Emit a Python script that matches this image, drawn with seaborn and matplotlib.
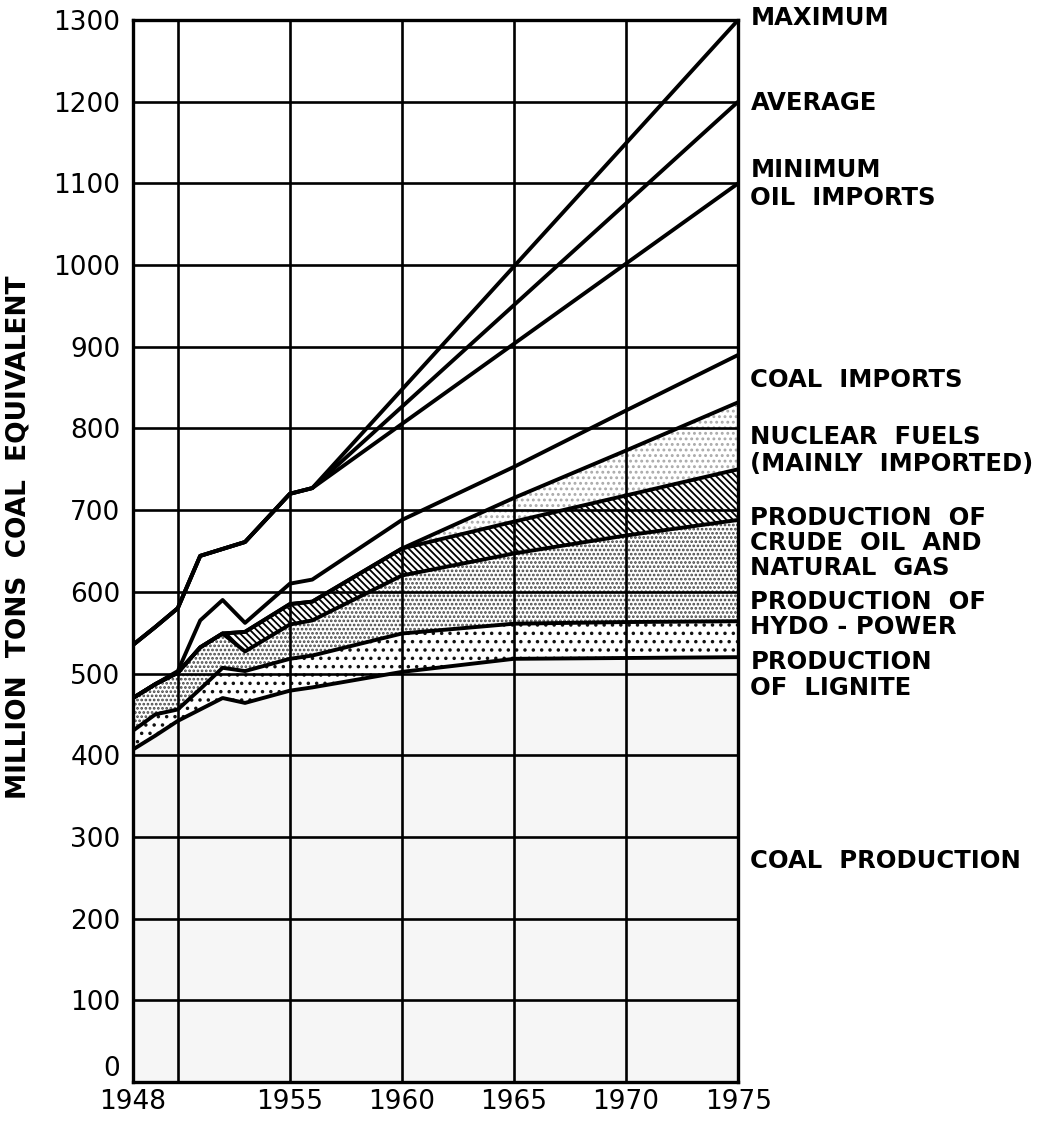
import numpy as np
import pandas as pd
import matplotlib
matplotlib.use("Agg")
import matplotlib.pyplot as plt
import seaborn as sns

# ---------------- data (million tons coal equivalent, cumulative tops) ----------------
years = [1948, 1949, 1950, 1951, 1952, 1953, 1955, 1956, 1960, 1965, 1970, 1975]
coal_production = [407, 424, 442, 456, 470, 464, 479, 483, 502, 518, 519, 520]
lignite_top = [430, 450, 456, 481, 507, 503, 518, 522, 549, 561, 563, 564]
hydro_top = [470, 487, 501, 532, 549, 527, 560, 565, 620, 647, 669, 688]
oil_gas_top = [470, 487, 501, 532, 549, 551, 585, 588, 653, 686, 718, 750]
nuclear_top = [470, 487, 501, 532, 549, 551, 585, 588, 653, 715, 773, 832]
coal_imports_top = [470, 487, 503, 565, 590, 562, 610, 615, 688, 753, 822, 890]

imports_years = [1948, 1949, 1950, 1951, 1953, 1955, 1956, 1975]
oil_imports_max = [535, 557, 580, 644, 661, 720, 727, 1300]
oil_imports_avg = [535, 557, 580, 644, 661, 720, 727, 1200]
oil_imports_min = [535, 557, 580, 644, 661, 720, 727, 1100]

x_ticks = [1948, 1955, 1960, 1965, 1970, 1975]
y_ticks = list(range(0, 1301, 100))

label_lines = ["MAXIMUM", "AVERAGE", "MINIMUM", "OIL  IMPORTS", "COAL  IMPORTS",
               "NUCLEAR  FUELS", "(MAINLY  IMPORTED)", "PRODUCTION  OF", "CRUDE  OIL  AND",
               "NATURAL  GAS", "PRODUCTION  OF", "HYDO - POWER", "PRODUCTION",
               "OF  LIGNITE", "COAL  PRODUCTION"]
label_levels = [1302, 1198, 1116, 1082, 859, 789, 756, 690, 660, 629, 588, 557, 514, 482, 271]

# ---------------- styling ----------------
sns.set_theme(style="white")
plt.rcParams['font.family'] = ['DejaVu Sans']
plt.rcParams['hatch.linewidth'] = 1.3

fig = plt.figure(figsize=(10.47, 11.24), dpi=100)
ax = fig.add_axes([0.127, 0.0374, 0.578, 0.9448])

# filled bands
ax.fill_between(years, 0, coal_production, facecolor='#f6f6f6', linewidth=0, zorder=1)
ax.fill_between(years, coal_production, lignite_top, facecolor='white', edgecolor='#111111',
                hatch='..', linewidth=0, zorder=1)
ax.fill_between(years, lignite_top, hydro_top, facecolor='white', edgecolor='#444444',
                hatch='....', linewidth=0, zorder=1)
ax.fill_between(years, hydro_top, oil_gas_top, facecolor='white', edgecolor='black',
                hatch='\\\\\\\\\\', linewidth=0, zorder=1)
ax.fill_between(years, oil_gas_top, nuclear_top, facecolor='white', edgecolor='#aaaaaa',
                hatch='...', linewidth=0, zorder=1)

# boundary lines
for series in [coal_production, lignite_top, hydro_top, oil_gas_top, nuclear_top, coal_imports_top]:
    sns.lineplot(x=years, y=series, ax=ax, color='black', linewidth=2.8, zorder=5,
                 estimator=None, sort=False)

imp = pd.DataFrame({
    'year': imports_years * 3,
    'value': oil_imports_max + oil_imports_avg + oil_imports_min,
    'case': ['max'] * len(imports_years) + ['avg'] * len(imports_years) + ['min'] * len(imports_years),
})
sns.lineplot(data=imp, x='year', y='value', hue='case', ax=ax,
             palette={'max': 'black', 'avg': 'black', 'min': 'black'},
             linewidth=2.8, legend=False, zorder=5, estimator=None, sort=False)

# axes, grid
ax.set_xlim(1948, 1975)
ax.set_ylim(0, 1300)
ax.set_xticks(x_ticks)
ax.set_xticks([1950], minor=True)
ax.set_yticks(y_ticks)
ax.grid(True, which='both', color='black', linewidth=1.9)
ax.set_axisbelow(False)
ax.tick_params(axis='both', which='both', length=0, labelsize=19, colors='black')
ax.tick_params(axis='x', pad=5)
ax.tick_params(axis='y', pad=9)
ax.yaxis.get_major_ticks()[0].label1.set_verticalalignment('bottom')
for sp in ax.spines.values():
    sp.set_color('black')
    sp.set_linewidth(2.4)
ax.set_xlabel('')
ax.set_ylabel('MILLION  TONS  COAL  EQUIVALENT', fontsize=19, fontweight='bold', color='black')
ax.yaxis.set_label_coords(-0.168, 0.513)

for text, yv in zip(label_lines, label_levels):
    ax.text(1975.55, yv, text, fontsize=17.5, fontweight='bold', color='black',
            va='center', ha='left', clip_on=False)

fig.savefig('out.png', dpi=100, facecolor='white')
